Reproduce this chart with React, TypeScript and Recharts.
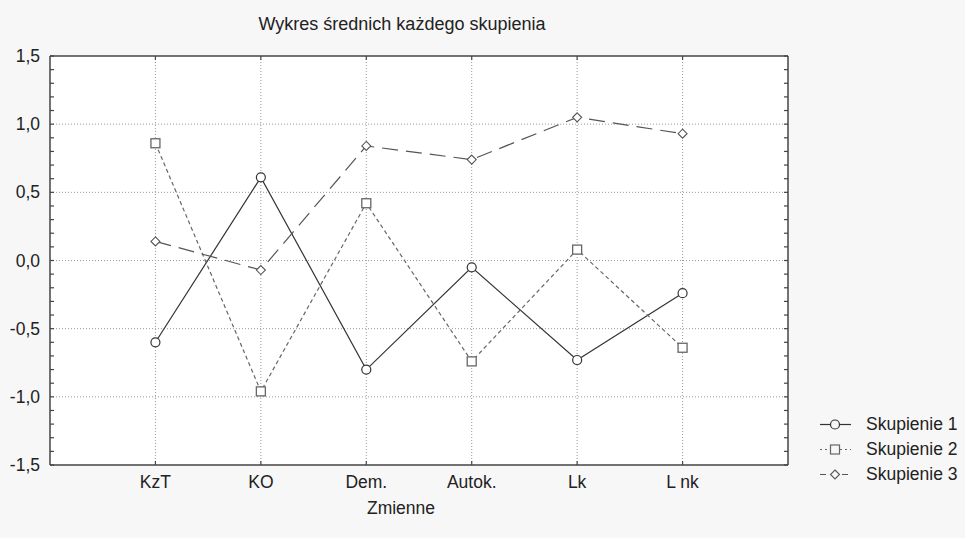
import React from 'react';
import { LineChart, Line, XAxis, YAxis, CartesianGrid, Legend } from 'recharts';

// categories on the x axis
const categories = ['KzT', 'KO', 'Dem.', 'Autok.', 'Lk', 'L nk'];
const categoryPositions = [1, 2, 3, 4, 5, 6];

// cluster means
const skupienie1 = [-0.6, 0.61, -0.8, -0.05, -0.73, -0.24];
const skupienie2 = [0.86, -0.96, 0.42, -0.74, 0.08, -0.64];
const skupienie3 = [0.14, -0.07, 0.84, 0.74, 1.05, 0.93];

// tick values
const majorTicks = [-1.5, -1, -0.5, 0, 0.5, 1, 1.5];
const gridTicks = [-1, -0.5, 0, 0.5, 1];
const minorTicks = [
  -1.5, -1.4, -1.3, -1.2, -1.1, -1.0, -0.9, -0.8, -0.7, -0.6, -0.5, -0.4, -0.3, -0.2, -0.1, 0,
  0.1, 0.2, 0.3, 0.4, 0.5, 0.6, 0.7, 0.8, 0.9, 1.0, 1.1, 1.2, 1.3, 1.4, 1.5,
];

const data = categories.map((name, i) => ({
  x: categoryPositions[i],
  name,
  s1: skupienie1[i],
  s2: skupienie2[i],
  s3: skupienie3[i],
}));

const FONT = '"Liberation Sans", Arial, sans-serif';
const AXIS = '#444';
const TICK_LEN = 4;
const LABEL_GAP = 10;

const isMajor = (v: number) => majorTicks.some((m) => Math.abs(m - v) < 1e-6);

// left axis: label for majors, short inward tick for every 0.1
const LeftTick = (props: any) => {
  const { x, y, payload } = props;
  const axisX = x + LABEL_GAP;
  const v = payload.value as number;
  return (
    <g>
      <line x1={axisX} x2={axisX + TICK_LEN} y1={y} y2={y} stroke={AXIS} strokeWidth={1.2} />
      {isMajor(v) && (
        <text x={x} y={y} dy={6} textAnchor="end" fontSize={17.5} fill="#222" fontFamily={FONT}>
          {v.toFixed(1).replace('.', ',')}
        </text>
      )}
    </g>
  );
};

const RightTick = (props: any) => {
  const { x, y } = props;
  return <line x1={x - TICK_LEN} x2={x} y1={y} y2={y} stroke={AXIS} strokeWidth={1.2} />;
};

const BottomTick = (props: any) => {
  const { x, y, payload } = props;
  const axisY = y - LABEL_GAP;
  return (
    <g>
      <line x1={x} x2={x} y1={axisY} y2={axisY - TICK_LEN} stroke={AXIS} strokeWidth={1.2} />
      <text x={x} y={y} dy={13} textAnchor="middle" fontSize={17.5} fill="#222" fontFamily={FONT}>
        {categories[(payload.value as number) - 1] ?? ''}
      </text>
    </g>
  );
};

const TopTick = (props: any) => {
  const { x, y } = props;
  return <line x1={x} x2={x} y1={y} y2={y + TICK_LEN} stroke={AXIS} strokeWidth={1.2} />;
};

const CircleDot = (props: any) => {
  const { cx, cy, index } = props;
  return <circle key={`c-${index}`} cx={cx} cy={cy} r={4.5} fill="#fff" stroke="#333" strokeWidth={1.2} />;
};

const SquareDot = (props: any) => {
  const { cx, cy, index } = props;
  return <rect key={`s-${index}`} x={cx - 4.5} y={cy - 4.5} width={9} height={9} fill="#fff" stroke="#666" strokeWidth={1.3} />;
};

const DiamondDot = (props: any) => {
  const { cx, cy, index } = props;
  return (
    <polygon
      key={`d-${index}`}
      points={`${cx},${cy - 4.5} ${cx + 4.5},${cy} ${cx},${cy + 4.5} ${cx - 4.5},${cy}`}
      fill="#fff"
      stroke="#555"
      strokeWidth={1.1}
    />
  );
};

const legendItems = [
  { label: 'Skupienie 1', dash: undefined, color: '#333', marker: 'circle' },
  { label: 'Skupienie 2', dash: '2 3', color: '#666', marker: 'square' },
  { label: 'Skupienie 3', dash: '6 5', color: '#555', marker: 'diamond' },
];

const LegendContent = () => (
  <div style={{ fontFamily: FONT, fontSize: 17.5, color: '#222' }}>
    {legendItems.map((item) => (
      <div key={item.label} style={{ display: 'flex', alignItems: 'center', height: 25 }}>
        <svg width={50} height={25} style={{ display: 'block', flex: 'none' }}>
          <line x1={4} x2={35} y1={12.5} y2={12.5} stroke={item.color} strokeWidth={1.2} strokeDasharray={item.dash} />
          {item.marker === 'circle' && <circle cx={19} cy={12.5} r={4.5} fill="#f7f7f7" stroke="#333" strokeWidth={1.2} />}
          {item.marker === 'square' && <rect x={14.5} y={8} width={9} height={9} fill="#f7f7f7" stroke="#666" strokeWidth={1.2} />}
          {item.marker === 'diamond' && (
            <polygon points="19,8 23.5,12.5 19,17 14.5,12.5" fill="#f7f7f7" stroke="#555" strokeWidth={1.1} />
          )}
        </svg>
        <span style={{ lineHeight: '25px', whiteSpace: 'nowrap' }}>{item.label}</span>
      </div>
    ))}
  </div>
);

const App: React.FC = () => {
  return (
    <div
      style={{
        position: 'absolute',
        left: 0,
        top: 0,
        width: 965,
        height: 538,
        background: '#f7f7f7',
        fontFamily: FONT,
      }}
    >
      <div
        style={{
          position: 'absolute',
          left: 0,
          width: 804,
          top: 15,
          textAlign: 'center',
          fontSize: 18,
          lineHeight: '18px',
          color: '#222',
        }}
      >
        Wykres średnich każdego skupienia
      </div>
      <LineChart width={965} height={538} data={data} margin={{ top: 55, right: 176, bottom: 43, left: 0 }}>
        <CartesianGrid
          xAxisId="x"
          yAxisId="y"
          fill="#fff"
          fillOpacity={1}
          stroke="#999"
          strokeDasharray="1 2"
          horizontalValues={gridTicks}
          verticalValues={categoryPositions}
        />
        <XAxis
          xAxisId="x"
          dataKey="x"
          type="number"
          domain={[0, 7]}
          ticks={categoryPositions}
          interval={0}
          allowDataOverflow
          tickLine={false}
          tickSize={0}
          tickMargin={LABEL_GAP}
          height={30}
          tick={BottomTick}
          axisLine={{ stroke: AXIS, strokeWidth: 1.5 }}
        />
        <XAxis
          xAxisId="top"
          orientation="top"
          dataKey="x"
          type="number"
          domain={[0, 7]}
          ticks={categoryPositions}
          interval={0}
          allowDataOverflow
          tickLine={false}
          tickSize={0}
          tickMargin={0}
          height={1}
          tick={TopTick}
          axisLine={{ stroke: AXIS, strokeWidth: 1.5 }}
        />
        <YAxis
          yAxisId="y"
          type="number"
          domain={[-1.5, 1.5]}
          ticks={minorTicks}
          interval={0}
          allowDataOverflow
          width={50}
          tickLine={false}
          tickSize={0}
          tickMargin={LABEL_GAP}
          tick={LeftTick}
          axisLine={{ stroke: AXIS, strokeWidth: 1.5 }}
        />
        <YAxis
          yAxisId="right"
          orientation="right"
          type="number"
          domain={[-1.5, 1.5]}
          ticks={minorTicks}
          interval={0}
          allowDataOverflow
          width={1}
          tickLine={false}
          tickSize={0}
          tickMargin={0}
          tick={RightTick}
          axisLine={{ stroke: AXIS, strokeWidth: 1.5 }}
        />
        <Legend
          layout="horizontal"
          verticalAlign="middle"
          wrapperStyle={{ left: 816, top: 412, width: 149 }}
          content={() => <LegendContent />}
        />
        <Line
          xAxisId="x"
          yAxisId="y"
          dataKey="s1"
          name="Skupienie 1"
          stroke="#333"
          strokeWidth={1.2}
          dot={CircleDot}
          activeDot={false}
          isAnimationActive={false}
        />
        <Line
          xAxisId="x"
          yAxisId="y"
          dataKey="s2"
          name="Skupienie 2"
          stroke="#666"
          strokeWidth={1.2}
          strokeDasharray="4 3"
          dot={SquareDot}
          activeDot={false}
          isAnimationActive={false}
        />
        <Line
          xAxisId="x"
          yAxisId="y"
          dataKey="s3"
          name="Skupienie 3"
          stroke="#555"
          strokeWidth={1.2}
          strokeDasharray="16 8"
          dot={DiamondDot}
          activeDot={false}
          isAnimationActive={false}
        />
      </LineChart>
      <div
        style={{
          position: 'absolute',
          left: 301,
          width: 200,
          top: 500,
          textAlign: 'center',
          fontSize: 17.5,
          lineHeight: '17.5px',
          color: '#222',
        }}
      >
        Zmienne
      </div>
    </div>
  );
};

export default App;
